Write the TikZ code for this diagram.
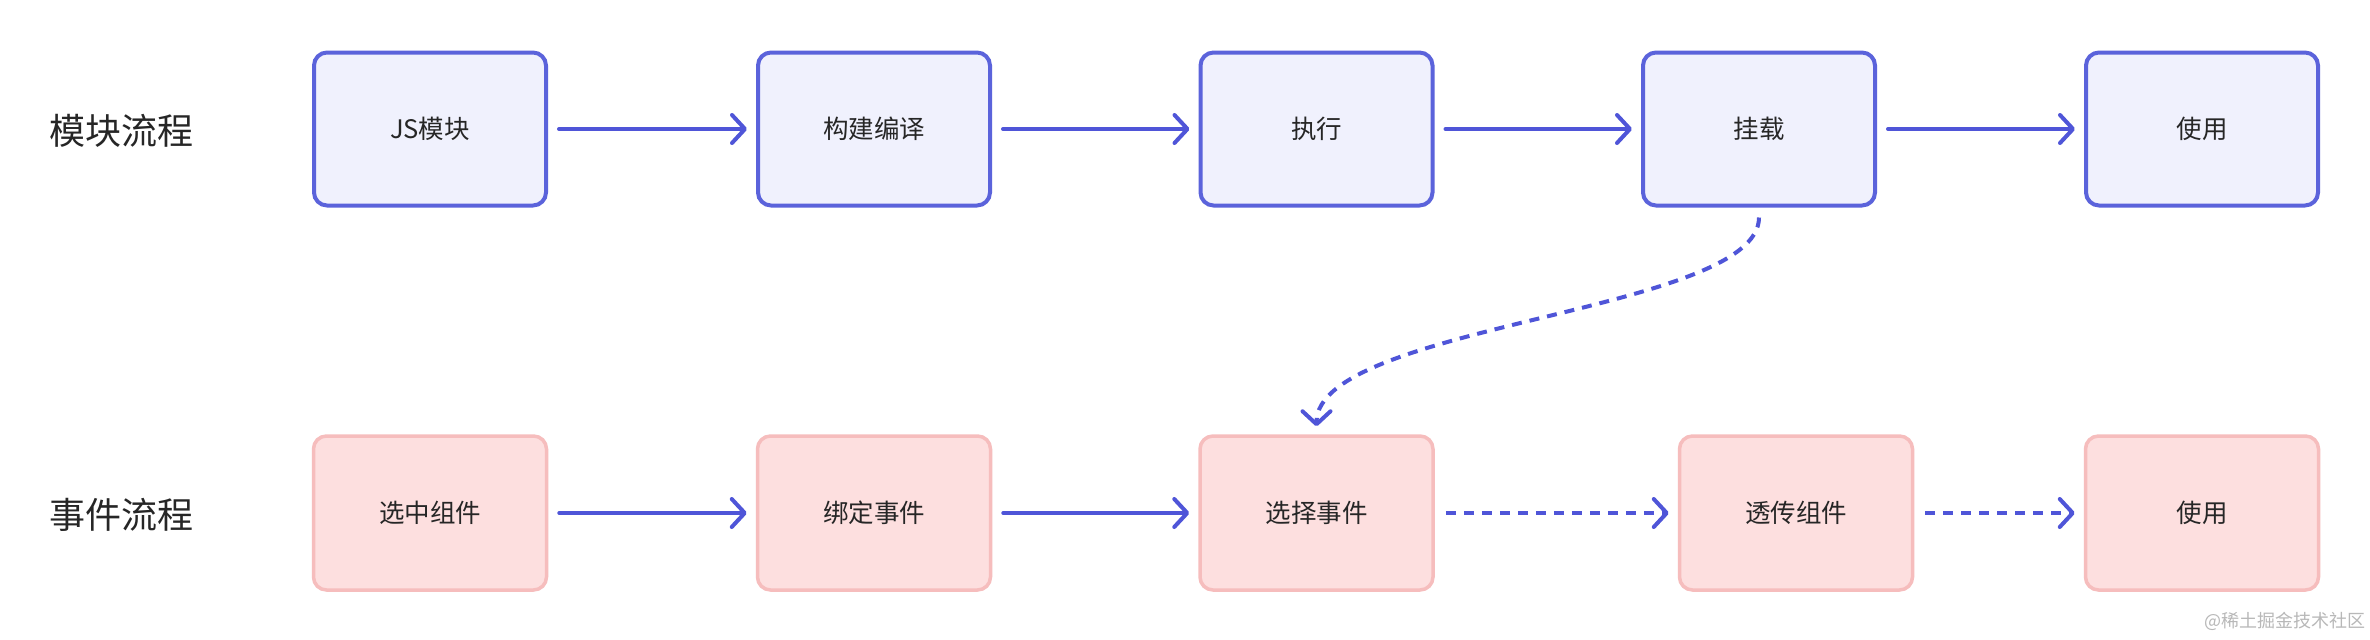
\documentclass[tikz,border=0pt]{standalone}
\usepackage{fontspec}
\setmainfont{Noto Sans CJK SC}
\usetikzlibrary{arrows.meta}
\definecolor{bstroke}{HTML}{5B63DB}
\definecolor{bfill}{HTML}{F0F1FD}
\definecolor{pstroke}{HTML}{F6BDBD}
\definecolor{pfill}{HTML}{FDDFDF}
\definecolor{arr}{HTML}{4F55D8}
\definecolor{txt}{HTML}{262626}
\tikzset{
  bluebox/.style={draw=bstroke, fill=bfill, line width=4pt, rounded corners=13pt,
    minimum width=232pt, minimum height=153pt, inner sep=0pt, text=txt,
    font=\fontsize{25.5}{30}\selectfont},
  pinkbox/.style={draw=pstroke, fill=pfill, line width=3.5pt, rounded corners=13pt,
    minimum width=233pt, minimum height=154pt, inner sep=0pt, text=txt,
    font=\fontsize{25.5}{30}\selectfont},
  rowlabel/.style={anchor=west, text=txt, inner sep=0pt, font=\fontsize{36}{40}\selectfont},
  conn/.style={draw=arr, line width=4pt, line cap=round,
    -{Straight Barb[length=13pt, width=28pt, line width=4pt, round]},
    shorten <=11pt, shorten >=9pt},
  dconn/.style={conn, line cap=butt, dash pattern=on 10pt off 8pt},
}
\begin{document}
\begin{tikzpicture}[x=1pt, y=-1pt]
\useasboundingbox[fill=white] (0,0) rectangle (2370,640);
% row labels
\node[rowlabel] (l1) at (49,131) {模块流程};
\node[rowlabel] (l2) at (49,515) {事件流程};
% top row
\node[bluebox] (js) at (430,129) {JS模块};
\node[bluebox] (gj) at (874,129) {构建编译};
\node[bluebox] (zx) at (1316.5,129) {执行};
\node[bluebox] (gz) at (1759,129) {挂载};
\node[bluebox] (sy1) at (2202,129) {使用};
% bottom row
\node[pinkbox] (xz) at (430,513) {选中组件};
\node[pinkbox] (bd) at (874,513) {绑定事件};
\node[pinkbox] (xs) at (1316.5,513) {选择事件};
\node[pinkbox] (tc) at (1796,513) {透传组件};
\node[pinkbox] (sy2) at (2202,513) {使用};
% connectors top
\draw[conn] (js.east) -- (gj.west);
\draw[conn] (gj.east) -- (zx.west);
\draw[conn] (zx.east) -- (gz.west);
\draw[conn] (gz.east) -- (sy1.west);
% connectors bottom
\draw[conn] (xz.east) -- (bd.west);
\draw[conn] (bd.east) -- (xs.west);
\draw[dconn] (xs.east) -- (tc.west);
\draw[dconn] (tc.east) -- (sy2.west);
% curved dashed
\draw[dconn, shorten <=10pt, shorten >=8pt] (gz.south) .. controls +(0,105) and +(0,-110) .. (xs.north);
% watermark
\node[anchor=east, text=black!28, inner sep=0pt, font=\fontsize{18}{21}\selectfont] (wm) at (2366,621) {@稀土掘金技术社区};
\end{tikzpicture}
\end{document}
